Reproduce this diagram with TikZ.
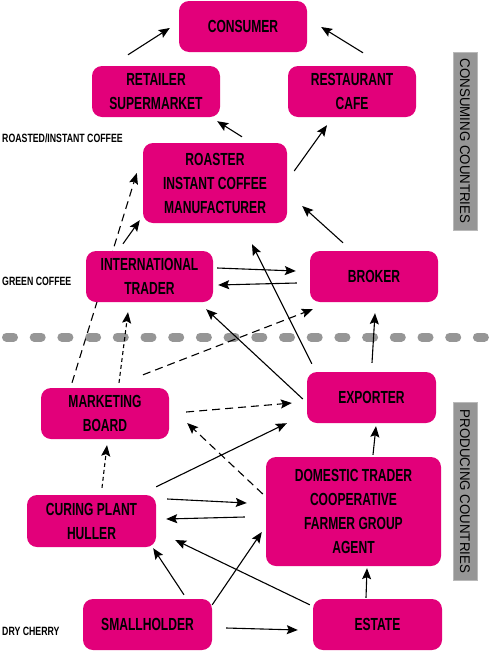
\documentclass[tikz,border=0pt]{standalone}
\usepackage{fontspec}
\setmainfont{Liberation Sans}[FakeStretch=0.73]
\newfontfamily\boxfont{Liberation Sans}[FakeStretch=0.69]
\newfontfamily\barfont{Liberation Sans}[FakeStretch=0.95]
\usetikzlibrary{arrows.meta,calc,backgrounds}
\definecolor{chainpink}{RGB}{226,0,122}
\definecolor{bargray}{RGB}{150,150,150}

\begin{document}
\begin{tikzpicture}[x=1pt,y=-1pt,
  box/.style={fill=chainpink,rounded corners=10pt,align=center,inner sep=0pt,minimum width=128pt,minimum height=51pt,font=\boxfont\fontsize{17.5}{24}\selectfont\bfseries},
  lbl/.style={anchor=west,inner sep=0pt,font=\fontsize{12}{14}\selectfont\bfseries},
  bar/.style={rotate=-90,draw=gray!55,fill=bargray,minimum width=178pt,minimum height=24pt,inner sep=0pt,font=\barfont\fontsize{14}{16}\selectfont,text=black},
  arr/.style={-{Stealth[length=11pt,width=9pt,inset=2pt]},line width=1.1pt},
  dsh/.style={arr,dash pattern=on 8pt off 5pt},
  dot/.style={arr,dash pattern=on 4pt off 3pt}]
\useasboundingbox (0,0) rectangle (488,651);
% border between the two worlds
\draw[bargray,line width=9pt,line cap=round,dash pattern=on 7pt off 20.7pt] (6.5,337) -- (488,337);
\node[bar] (cons) at (465,141) {CONSUMING COUNTRIES};
\node[bar] (prod) at (465,491.5) {PRODUCING COUNTRIES};
\node[lbl] (lroast) at (2,138) {ROASTED/INSTANT COFFEE};
\node[lbl] (lgreen) at (2,281) {GREEN COFFEE};
\node[lbl] (lcherry) at (2,631) {DRY CHERRY};
% consuming side
\node[box] (consumer) at (243,26.5) {CONSUMER};
\node[box] (retail) at (156,91.5) {RETAILER\\SUPERMARKET};
\node[box] (resto) at (352,91.5) {RESTAURANT\\CAFE};
\node[box,minimum width=144pt,minimum height=80pt] (roaster) at (215,183) {ROASTER\\INSTANT COFFEE\\MANUFACTURER};
\node[box,minimum width=127pt] (trader) at (149.5,276.5) {INTERNATIONAL\\TRADER};
\node[box] (broker) at (374,276.5) {BROKER};
% producing side
\node[box] (board) at (105,413.5) {MARKETING\\BOARD};
\node[box,minimum width=129pt] (exporter) at (371.5,397.5) {EXPORTER};
\node[box,minimum width=129pt,minimum height=52pt] (curing) at (91.5,521) {CURING PLANT\\HULLER};
\node[box,minimum width=175pt,minimum height=109pt] (domestic) at (353.5,511.5) {DOMESTIC TRADER\\COOPERATIVE\\FARMER GROUP\\AGENT};
\node[box,minimum width=129pt] (small) at (147.5,624.5) {SMALLHOLDER};
\node[box,minimum width=129pt] (estate) at (377.5,624.5) {ESTATE};
% flows
\begin{scope}[on background layer]
\draw[dsh] ($(board.north)+(-33,-5)$) -- ($(roaster.west)+(-6,-10)$);
\end{scope}
\draw[arr] ($(retail.north)+(-28,-11)$) -- ($(consumer.west)+(-9,1.5)$);
\draw[arr] ($(resto.north)+(11,-13)$) -- ($(consumer.east)+(14,0.5)$);
\draw[arr] ($(roaster.north)+(27,-6)$) -- ($(retail.south east)+(-3,4)$);
\draw[arr] ($(roaster.east)+(7,-12)$) -- ($(resto.south)+(-25,8)$);
\draw[arr] ($(broker.north)+(-31,-8)$) -- ($(roaster.east)+(15,23)$);
\draw[arr] ($(trader.north)+(-26.5,-7)$) -- ($(roaster.south west)+(-3,-3)$);
\draw[dot] ($(board.north)+(14,-5)$) -- ($(trader.south)+(-21.5,10)$);
\draw[dsh] ($(board.north)+(38,-13)$) -- ($(broker.south west)+(3,7)$);
\draw[dsh] ($(board.east)+(17,-1.5)$) -- ($(exporter.west)+(-15,5.5)$);
\draw[arr] ($(trader.east)+(4,-8.5)$) -- ($(broker.west)+(-14,-5.5)$);
\draw[arr] ($(broker.west)+(-13,6.5)$) -- ($(trader.east)+(5,8.5)$);
\draw[arr] ($(exporter.west)+(-4,1.5)$) -- ($(trader.south east)+(-7,7)$);
\draw[arr] ($(exporter.north west)+(5,-8)$) -- ($(roaster.south)+(37,21)$);
\draw[arr] ($(exporter.north)+(0.5,-9)$) -- ($(broker.south)+(1,11)$);
\draw[arr] ($(domestic.north)+(19.5,-2)$) -- ($(exporter.south)+(4.5,3)$);
\draw[dsh] ($(domestic.west)+(-3,-17.5)$) -- ($(board.east)+(18,9.5)$);
\draw[dot] ($(curing.north)+(10.5,-7)$) -- ($(board.south)+(2,6)$);
\draw[arr] ($(curing.north east)+(0,-8)$) -- ($(exporter.south west)+(-20,0)$);
\draw[arr] ($(curing.east)+(11,-22)$) -- ($(domestic.west)+(-19,-8.5)$);
\draw[arr] ($(domestic.west)+(-21,5.5)$) -- ($(curing.east)+(10,-2)$);
\draw[arr] ($(small.north)+(36.5,-4)$) -- ($(curing.south east)+(-3,1)$);
\draw[arr] ($(small.north east)+(0,6)$) -- ($(domestic.west)+(-4,20.5)$);
\draw[arr] ($(estate.north west)+(-3,6)$) -- ($(curing.east)+(19,19)$);
\draw[arr] ($(estate.north)+(-11.5,-1)$) -- ($(domestic.south)+(13.5,2)$);
\draw[arr] ($(small.east)+(14,3.5)$) -- ($(estate.west)+(-15,5.5)$);
\end{tikzpicture}
\end{document}
